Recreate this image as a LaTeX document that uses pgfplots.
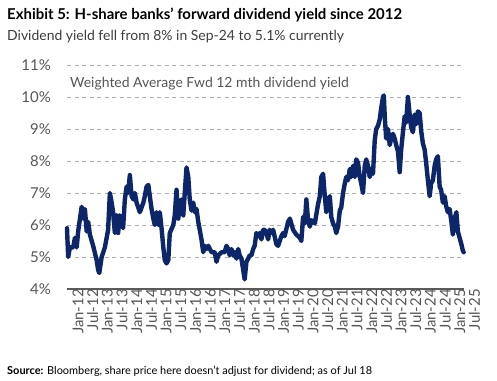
\documentclass[border=0pt]{standalone}
\usepackage{fontspec}
\setmainfont{Lato}
\usepackage{pgfplots}
\pgfplotsset{compat=1.18}
\definecolor{navy}{RGB}{12,38,105}
\definecolor{txtgray}{RGB}{85,85,85}
\definecolor{gridgray}{RGB}{175,175,175}
\definecolor{axgray}{RGB}{90,90,90}
\begin{document}
\begin{tikzpicture}[x=1bp,y=1bp]
\useasboundingbox (0,0) rectangle (497,380);
\begin{axis}[
  at={(67bp,91bp)}, anchor=south west,
  scale only axis, width=397bp, height=224bp,
  xmin=2012, xmax=2025.52, ymin=4, ymax=11,
  axis x line*=bottom, axis y line*=left,
  x axis line style={-, draw=axgray, line width=1.6bp},
  y axis line style={draw=none},
  ytick={4,5,6,7,8,9,10,11},
  yticklabels={4\%,5\%,6\%,7\%,8\%,9\%,10\%,11\%},
  xtick={2012,2012.5,2013,2013.5,2014,2014.5,2015,2015.5,2016,2016.5,2017,2017.5,2018,2018.5,2019,2019.5,2020,2020.5,2021,2021.5,2022,2022.5,2023,2023.5,2024,2024.5,2025,2025.5},
  xticklabels={Jan-12,Jul-12,Jan-13,Jul-13,Jan-14,Jul-14,Jan-15,Jul-15,Jan-16,Jul-16,Jan-17,Jul-17,Jan-18,Jul-18,Jan-19,Jul-19,Jan-20,Jul-20,Jan-21,Jul-21,Jan-22,Jul-22,Jan-23,Jul-23,Jan-24,Jul-24,Jan-25,Jul-25},
  major tick length=0pt,
  /pgf/number format/assume math mode=true,
  yticklabel style={font=\fontsize{15}{15}\selectfont, text=txtgray, anchor=east, inner sep=0pt, xshift=-16bp},
  xticklabel style={font=\fontsize{15}{15}\selectfont, text=txtgray, rotate=90, anchor=east, inner sep=0pt, yshift=-11bp},
  ymajorgrids,
  major grid style={gridgray, line width=0.9bp, dash pattern=on 4bp off 3.5bp},
  clip=false,
]
\addplot[navy, line width=4.4bp, line join=round, line cap=round] table {
x y
2012.00 5.9
2012.04 5.0
2012.10 5.3
2012.21 5.3
2012.27 5.6
2012.33 5.3
2012.38 5.8
2012.50 6.57
2012.55 6.2
2012.61 6.5
2012.67 5.8
2012.72 6.1
2012.78 5.7
2012.89 5.35
2013.01 4.9
2013.06 4.6
2013.10 4.5
2013.18 5.0
2013.29 5.3
2013.35 5.6
2013.40 5.85
2013.46 7.0
2013.52 6.7
2013.57 6.4
2013.63 5.75
2013.69 6.3
2013.74 5.75
2013.80 6.3
2013.86 6.2
2013.91 5.9
2013.97 6.8
2014.03 7.2
2014.08 7.0
2014.14 7.56
2014.20 6.9
2014.26 6.8
2014.31 7.0
2014.37 6.7
2014.48 6.4
2014.60 6.7
2014.65 6.9
2014.71 7.2
2014.77 7.25
2014.82 6.9
2014.88 6.5
2014.94 6.2
2014.99 6.0
2015.05 6.4
2015.11 6.0
2015.16 6.4
2015.22 5.9
2015.28 5.3
2015.33 4.9
2015.39 4.8
2015.45 4.9
2015.50 5.75
2015.62 6.0
2015.67 6.3
2015.73 7.1
2015.79 6.2
2015.84 6.6
2015.90 6.8
2015.96 6.3
2016.01 7.0
2016.07 7.8
2016.13 7.5
2016.18 6.8
2016.24 6.45
2016.30 6.7
2016.35 6.4
2016.41 6.5
2016.47 6.1
2016.52 5.85
2016.58 5.55
2016.64 5.15
2016.69 5.35
2016.75 5.25
2016.81 5.35
2016.92 5.15
2017.03 5.15
2017.09 4.85
2017.15 5.05
2017.26 5.15
2017.37 5.15
2017.43 5.35
2017.49 5.25
2017.54 5.05
2017.60 5.25
2017.66 5.05
2017.71 5.15
2017.77 4.95
2017.83 5.25
2017.88 5.05
2017.94 4.95
2018.00 4.6
2018.05 4.3
2018.11 4.85
2018.17 4.95
2018.22 5.05
2018.28 5.05
2018.34 5.25
2018.39 5.35
2018.45 5.75
2018.51 5.65
2018.56 5.75
2018.62 5.55
2018.68 5.85
2018.73 5.85
2018.79 5.75
2018.85 5.55
2018.90 5.85
2018.96 5.75
2019.02 5.85
2019.07 5.65
2019.13 5.4
2019.19 5.35
2019.30 5.65
2019.36 5.75
2019.41 5.65
2019.53 6.1
2019.59 6.2
2019.70 5.85
2019.81 5.7
2019.93 5.6
2019.98 5.5
2020.04 6.25
2020.10 6.05
2020.15 6.8
2020.21 6.15
2020.27 5.95
2020.32 6.15
2020.44 6.05
2020.55 6.65
2020.61 6.9
2020.66 7.5
2020.72 7.6
2020.78 6.9
2020.83 6.4
2020.89 6.75
2020.95 6.9
2021.00 6.25
2021.06 6.05
2021.12 5.95
2021.17 5.75
2021.23 5.95
2021.29 6.45
2021.34 6.55
2021.40 7.0
2021.46 7.3
2021.51 7.5
2021.57 7.4
2021.63 7.75
2021.68 7.5
2021.74 7.85
2021.80 7.5
2021.85 8.05
2021.91 7.95
2021.97 7.5
2022.02 7.3
2022.08 7.0
2022.14 7.85
2022.19 8.05
2022.25 7.85
2022.31 7.5
2022.36 7.75
2022.42 7.6
2022.48 8.65
2022.53 9.0
2022.59 9.1
2022.65 9.3
2022.70 9.65
2022.76 10.0
2022.79 10.05
2022.82 9.4
2022.87 8.7
2022.93 9.0
2022.99 8.5
2023.04 8.7
2023.10 8.85
2023.16 8.7
2023.21 8.5
2023.27 8.3
2023.33 7.65
2023.38 8.35
2023.44 8.9
2023.50 9.4
2023.55 9.2
2023.61 10.0
2023.67 9.45
2023.72 9.05
2023.78 8.9
2023.84 9.45
2023.89 9.15
2023.95 9.55
2024.01 9.5
2024.06 8.95
2024.12 8.55
2024.18 8.35
2024.23 7.95
2024.29 7.4
2024.35 6.9
2024.40 7.3
2024.46 7.4
2024.52 7.85
2024.57 8.05
2024.63 8.15
2024.69 7.2
2024.74 7.1
2024.80 6.7
2024.86 6.9
2024.91 6.6
2024.97 6.4
2025.03 6.5
2025.09 6.1
2025.14 5.7
2025.20 6.2
2025.26 6.4
2025.31 5.8
2025.37 5.6
2025.43 5.4
2025.48 5.2
2025.51 5.15
};
\end{axis}
\node[anchor=base west, inner sep=0pt, font=\fontsize{15}{15}\selectfont\bfseries] at (7,361) {Exhibit 5: H-share banks’ forward dividend yield since 2012};
\node[anchor=base west, inner sep=0pt, font=\fontsize{14}{14}\selectfont, text=txtgray!70!black] at (7,340) {Dividend yield fell from 8\% in Sep-24 to 5.1\% currently};
\node[anchor=base west, inner sep=0pt, font=\fontsize{14}{14}\selectfont, text=txtgray] at (70,293) {Weighted Average Fwd 12 mth dividend yield};
\node[anchor=base west, inner sep=0pt, font=\fontsize{11}{11}\selectfont] at (7,6) {\textbf{Source:} Bloomberg, share price here doesn’t adjust for dividend; as of Jul 18};
\end{tikzpicture}
\end{document}
